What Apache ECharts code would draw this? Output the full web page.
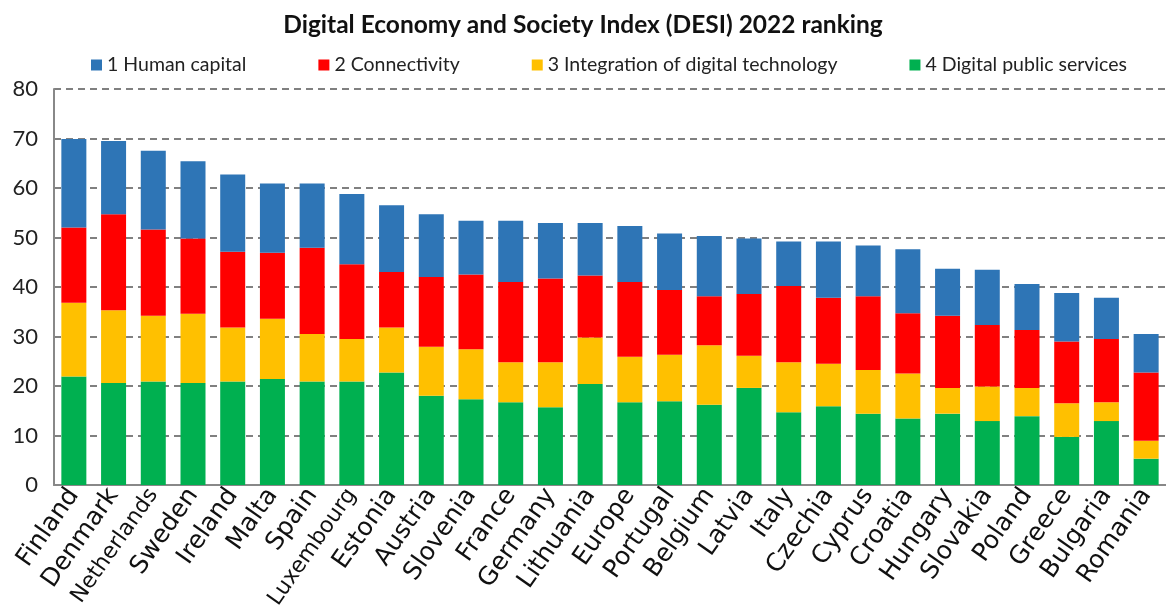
<!DOCTYPE html>
<html>
<head>
<meta charset="utf-8">
<script src="https://cdn.jsdelivr.net/npm/echarts@6/dist/echarts.min.js"></script>
<style>html,body{margin:0;padding:0;background:#fff}#c{width:1166px;height:612px}</style>
</head>
<body>
<div id="c"></div>
<script>
var categories = ['Finland','Denmark','Netherlands','Sweden','Ireland','Malta','Spain','Luxembourg','Estonia','Austria','Slovenia','France','Germany','Lithuania','Europe','Portugal','Belgium','Latvia','Italy','Czechia','Cyprus','Croatia','Hungary','Slovakia','Poland','Greece','Bulgaria','Romania'];
var digitalPublicServices = [21.9,20.6,20.9,20.6,20.9,21.4,20.9,20.9,22.7,18.0,17.3,16.7,15.7,20.4,16.7,16.9,16.2,19.6,14.7,15.9,14.4,13.4,14.4,12.9,13.9,9.7,12.9,5.3];
var integration = [14.9,14.7,13.3,14.0,10.9,12.2,9.6,8.6,9.1,9.9,10.1,8.1,9.1,9.4,9.2,9.4,12.0,6.5,10.1,8.6,8.8,9.1,5.2,7.0,5.7,6.8,3.8,3.6];
var connectivity = [15.2,19.4,17.4,15.2,15.3,13.3,17.4,15.1,11.2,14.1,15.1,16.2,16.9,12.5,15.1,13.1,9.9,12.5,15.4,13.3,14.9,12.2,14.6,12.4,11.7,12.5,12.8,13.8];
var humanCapital = [17.9,14.8,15.9,15.6,15.6,14.0,13.0,14.2,13.5,12.7,10.9,12.4,11.2,10.6,11.3,11.4,12.2,11.2,9.0,11.4,10.3,12.9,9.5,11.2,9.3,9.8,8.3,7.8];
var yTicks = [0,10,20,30,40,50,60,70,80];
var smallLabels = ['Netherlands','Luxembourg'];

var chart = echarts.init(document.getElementById('c'));
var catData = categories.map(function(c){
  return smallLabels.indexOf(c) >= 0 ? {value: c, textStyle: {fontSize: 22}} : c;
});
var names = ['1 Human capital','2 Connectivity','3 Integration of digital technology','4 Digital public services'];
function s(name, data, color){
  return {name: name, type: 'bar', stack: 'total', data: data, barWidth: 25,
          itemStyle: {color: color}, emphasis: {disabled: true}};
}
chart.setOption({
  animation: false,
  title: {
    text: 'Digital Economy and Society Index (DESI) 2022 ranking',
    left: 'center', top: 8,
    textStyle: {fontFamily: 'Lato', fontWeight: 'bold', fontSize: 24.5, color: '#111'}
  },
  legend: {
    data: names, top: 50, left: 86, itemGap: 72,
    icon: 'rect', itemWidth: 11, itemHeight: 11,
    textStyle: {fontFamily: 'Lato', fontSize: 19.5, color: '#222'}
  },
  grid: {left: 54, top: 89, height: 396, width: 1115, containLabel: false},
  xAxis: {
    type: 'category', data: catData,
    axisLine: {show: true, lineStyle: {color: '#888', width: 2}},
    axisTick: {show: false},
    axisLabel: {interval: 0, rotate: 55, margin: 6, fontFamily: 'DejaVu Sans', fontSize: 25, color: '#111'}
  },
  yAxis: {
    type: 'value', min: yTicks[0], max: yTicks[yTicks.length-1], interval: 10,
    axisLine: {show: true, lineStyle: {color: '#888', width: 2}},
    axisTick: {show: false},
    axisLabel: {fontFamily: 'Lato', fontSize: 22, color: '#222', margin: 16},
    splitLine: {show: true, lineStyle: {color: '#808080', width: 2, type: [7,5]}}
  },
  series: [
    s(names[3], digitalPublicServices, '#00b050'),
    s(names[2], integration, '#ffc000'),
    s(names[1], connectivity, '#ff0000'),
    s(names[0], humanCapital, '#2e75b6')
  ]
});
</script>
</body>
</html>
